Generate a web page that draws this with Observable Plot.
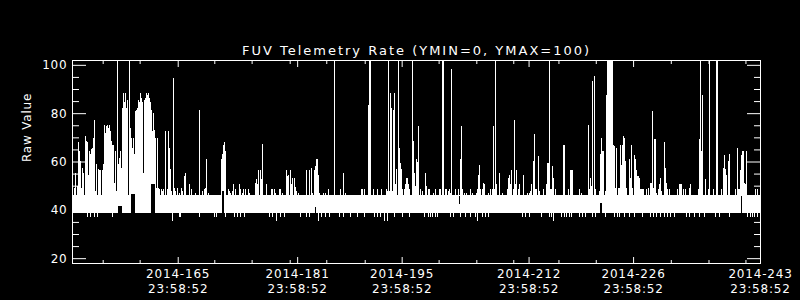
<!DOCTYPE html>
<html><head><meta charset="utf-8">
<script src="https://cdn.jsdelivr.net/npm/d3@7"></script>
<script src="https://cdn.jsdelivr.net/npm/@observablehq/plot@0.6"></script>
<style>
html,body{margin:0;padding:0;background:#000;}
</style>
</head><body>
<div id="chart"></div>
<script>
// ---- data (day-of-year 2014, raw value) ----
const title = "FUV Telemetry Rate (YMIN=0, YMAX=100)";
const yLabel = "Raw Value";
const xStart = 151.84, xEnd = 243.9992;
const yDomain = [18, 102];
const xTickDays = [165, 181, 195, 212, 226, 243];
const xTickTime = "23:58:52";
const xMinorTicks = [155.95, 160.9, 170.9, 175.9, 181.0, 185.9, 191.05, 200.95, 206.0, 210.95, 217.0, 222.0, 232.05, 237.1, 242.05];
const yMajorTicks = [20, 40, 60, 80, 100];
const yMinorTicks = [25, 30, 35, 45, 50, 55, 65, 70, 75, 85, 90, 95];

// quiet baseline band
const bandDay = [151.84, 243.95];
const bandLo = [38.5, 38.5];
const bandHi = [46, 46];

// excursions above the band [day, value]
const spikes = [
[152.11,49.2],[152.29,55.3],[152.47,49.8],[152.64,68.1],[152.78,64.3],[152.91,60.1],[153.05,49.2],[153.22,57.4],[153.36,55.3],[153.54,70.4],[153.67,68.4],[153.80,68.1],[153.94,54.6],[154.12,64.3],[154.25,62.9],[154.39,65.0],[154.52,65.6],[154.65,69.7],[154.79,77.3],[154.92,47.8],[155.10,58.8],[155.28,56.7],[155.46,56.3],[155.64,56.3],[155.81,56.3],[155.99,58.8],[156.17,75.2],[156.31,71.8],[156.44,74.5],[156.57,75.2],[156.71,73.9],[156.84,75.2],[156.97,72.5],[157.11,68.4],[157.24,67.0],[157.38,67.0],[157.51,51.2],[157.64,64.3],[157.78,47.8],[157.91,110],[158.05,58.8],[158.18,61.5],[158.31,64.3],[158.45,57.4],[158.58,82.1],[158.72,88.3],[158.85,84.8],[158.98,88.3],[159.12,82.1],[159.25,85.5],[159.43,110],[159.56,73.9],[159.70,69.7],[159.83,65.6],[159.97,69.7],[160.10,62.9],[160.23,80.7],[160.37,81.4],[160.50,82.1],[160.64,85.5],[160.77,84.8],[160.90,88.3],[161.04,86.2],[161.17,84.8],[161.31,55.3],[161.44,85.5],[161.57,86.2],[161.71,88.3],[161.84,87.6],[161.98,88.3],[162.11,86.2],[162.24,84.8],[162.38,81.4],[162.51,72.5],[162.65,80.0],[162.78,73.2],[162.91,69.7],[163.05,49.2],[163.18,69.7],[163.32,49.2],[163.45,48.5],[163.72,48.5],[163.90,47.8],[164.07,48.5],[164.34,72.5],[164.52,48.5],[164.70,72.5],[164.83,65.6],[164.97,56.7],[165.10,47.8],[165.37,94.7],[165.50,49.2],[165.68,47.8],[165.86,49.2],[166.22,47.1],[166.40,49.2],[166.57,47.8],[166.89,54.0],[167.02,55.3],
[167.56,50.5],[167.73,48.5],[168.36,47.1],[168.90,81.4],[169.30,47.8],[169.48,48.5],[169.66,49.2],[169.83,61.2],[170.01,47.1],[171.84,61.2],[171.98,62.9],[172.11,66.7],[172.24,68.1],[172.38,64.3],[172.69,48.5],[172.87,47.8],[173.05,47.1],[173.23,47.8],[173.45,50.5],[173.63,48.5],[174.21,50.5],[174.39,48.5],[174.57,47.1],[174.79,48.5],[175.01,48.5],[175.37,48.5],[175.55,47.1],[176.31,51.2],[176.44,52.6],[176.62,50.5],[176.80,56.3],[176.98,56.3],[177.16,52.6],[177.34,67.3],[177.87,50.5],[178.50,48.5],[178.69,48.5],[178.85,48.5],[179.03,47.1],[179.57,48.5],[179.75,48.5],[179.93,47.1],[180.51,56.3],[180.64,54.0],[180.82,54.6],[181.00,56.3],[181.18,50.5],[181.35,53.3],[181.53,53.3],[181.71,49.4],[181.89,47.8],[182.07,47.1],
[183.23,56.3],[183.63,56.3],[183.81,57.4],[183.99,47.1],[184.21,56.3],[184.35,58.3],[184.52,61.2],[184.66,61.2],[184.79,54.4],[184.97,47.1],[185.42,47.1],[185.77,47.1],[186.18,48.5],[186.98,110],[187.74,48.5],[188.19,55.3],[188.36,47.1],[190.51,48.5],[190.69,48.5],[191.00,48.5],[191.53,83.5],[191.67,110],[191.80,110],[192.16,48.5],[192.74,48.5],[193.28,48.5],[193.90,48.5],[194.08,47.8],[194.21,110],[194.35,47.8],[194.48,88.3],[194.62,82.1],[194.70,47.8],[194.84,81.4],[194.97,88.3],[195.15,50.5],[195.29,56.7],[195.46,110],[195.55,72.5],[195.69,65.6],[195.82,59.4],[195.96,56.7],[196.09,48.5],[196.27,48.5],[196.40,50.5],[196.58,53.3],[196.71,53.3],[196.85,50.5],[197.03,48.5],[197.43,110],[197.56,68.4],[197.70,55.3],[197.83,49.8],[197.97,61.2],
[198.10,59.9],[198.23,74.5],[198.41,48.5],[198.77,47.8],[199.13,55.3],[199.30,49.8],[199.48,48.5],[199.66,48.5],[200.24,47.1],[200.46,48.5],[201.00,48.5],[201.18,48.5],[201.45,110],[201.58,110],[201.80,48.5],[201.98,48.5],[202.16,47.8],[202.34,48.5],[202.52,47.1],[202.65,98.3],[203.19,48.5],[203.59,48.5],[203.81,61.2],[203.95,74.5],[204.13,48.5],[204.30,47.1],[204.66,47.1],[205.20,48.5],[205.38,47.1],[205.91,47.1],[206.09,48.5],[206.27,54.4],[206.40,58.5],[206.54,48.5],[206.72,48.5],[206.89,51.2],[207.07,50.5],[207.61,47.1],[207.79,48.5],[208.14,48.5],[208.28,74.5],[208.41,48.5],[208.55,110],[208.68,50.5],[209.08,55.3],[209.44,47.1],[210.15,48.5],[210.29,53.3],[210.42,54.4],[210.56,50.5],[210.69,56.3],[210.87,48.5],[211.00,72.5],[211.09,77.3],[211.23,50.5],[211.36,56.3],[211.54,48.5],[211.72,50.5],[212.30,54.4],[212.83,47.1],[213.01,47.1],[213.19,47.8],[213.37,50.5],
[213.55,54.0],[213.64,60.1],[213.77,71.5],[213.90,48.5],[214.04,48.5],[214.22,58.1],[214.31,62.2],[214.44,47.8],[214.98,48.5],[215.33,50.5],[215.51,59.4],[215.65,59.4],[215.78,110],[215.91,48.5],[216.05,48.5],[216.18,58.3],[216.32,53.3],[216.49,48.5],[217.66,66.7],[217.79,66.7],[218.32,48.5],[218.50,56.3],[218.64,56.3],[218.77,56.3],[219.80,48.5],[219.98,47.1],[221.00,75.2],[221.14,48.5],[221.27,53.3],[221.41,49.8],[221.54,93.4],[221.81,95.4],[221.94,48.5],[222.39,47.8],[222.52,62.9],[222.66,66.3],[222.75,69.7],[222.88,64.3],[223.01,64.5],[223.19,47.8],[223.33,87.6],[223.46,110],[223.59,110],[223.73,110],[223.86,110],[224.00,110],[224.13,110],[224.26,66.7],[224.40,66.3],[224.53,49.2],[224.71,65.4],[224.98,49.2],[225.11,49.2],[225.25,66.7],[225.38,58.5],[225.51,66.7],[225.65,70.4],[225.78,69.7],[225.92,60.1],[226.05,49.2],[226.50,61.2],[226.63,53.3],[226.76,66.7],[226.90,49.2],[227.17,62.6],[227.30,61.2],[227.43,56.3],[227.57,54.0],[227.70,54.0],[227.84,53.3],[227.97,48.5],[228.10,48.5],[228.24,48.5],[228.37,48.5],[228.68,48.5],
[228.99,49.2],[229.31,51.2],[229.44,51.2],[229.58,80.7],[229.71,49.2],[229.84,69.5],[229.98,69.5],[230.11,47.1],[230.38,48.5],[230.51,50.5],[230.65,53.3],[230.78,47.8],[231.18,68.1],[231.32,57.4],[231.45,51.2],[231.59,48.5],[231.85,48.5],[232.93,48.5],[233.10,50.5],[233.28,50.5],[233.46,50.5],[233.64,48.5],[234.00,48.5],[234.53,49.2],[234.67,50.5],[235.74,48.5],[235.87,69.5],[236.01,110],[236.14,64.5],[236.27,87.6],[236.68,52.6],[236.99,48.5],[237.17,110],[237.70,48.5],[238.06,110],[238.19,110],[238.73,48.5],[239.00,57.4],[239.13,62.6],[239.27,56.7],[239.40,54.4],[239.71,60.1],[239.85,63.2],[240.69,48.5],[240.96,65.4],[241.10,48.5],[241.23,48.5],[241.36,56.3],[241.50,62.6],[241.63,64.5],[241.77,64.5],[241.90,51.2],[242.03,50.5],[242.17,64.5],[243.37,48.5],[243.55,48.5]
];

// short drops below the band [day, value]
const dips = [
[153.85,37.1],[154.30,37.1],[154.74,37.1],[155.19,37.1],[157.20,37.1],[165.24,35.2],[166.13,37.1],[166.35,37.1],
[168.81,37.1],[170.82,37.1],[171.17,37.1],[172.38,37.1],[173.50,37.1],[173.94,37.1],[174.39,37.1],[174.84,37.1],[178.18,37.1],[178.63,37.1],[179.21,35.2],[179.75,37.1],[180.19,37.1],[182.43,37.1],
[183.18,37.1],[183.63,37.1],[184.79,35.2],[185.20,37.1],[185.69,37.1],[186.31,37.1],[187.65,37.1],[188.10,37.1],[189.12,37.1],[190.02,37.1],[190.91,37.1],[192.25,37.1],[192.70,37.1],[193.14,37.1],[193.63,35.2],[194.04,35.2],[194.93,37.1],[196.05,37.1],[197.03,37.1],
[199.04,37.1],[199.53,37.1],[199.84,37.1],[200.06,37.1],[200.51,37.1],[200.73,37.1],[202.52,37.1],[202.88,37.1],[203.86,37.1],[204.53,37.1],[205.20,37.1],[205.87,37.1],[206.14,35.2],[206.76,37.1],[207.21,37.1],[207.52,37.1],[212.12,37.1],[212.56,37.1],[213.01,37.1],
[214.71,37.1],[215.69,37.1],[216.05,37.1],[216.23,35.2],[217.39,37.1],[217.70,37.1],[218.01,37.1],[218.37,37.1],[218.73,37.1],[219.71,37.1],[220.16,37.1],[220.60,37.1],[221.50,37.1],[221.94,37.1],[223.19,37.1],[224.40,37.1],[224.84,37.1],[225.07,37.1],[225.74,37.1],[226.41,37.1],[227.08,37.1],[228.19,37.1],
[229.22,37.1],[229.67,37.1],[230.11,37.1],[230.65,37.1],[231.09,37.1],[231.54,37.1],[231.99,37.1],[232.43,37.1],[234.13,37.1],[234.44,37.1],[235.11,37.1],[235.78,37.1],[236.45,37.1],[238.02,37.1],[238.46,37.1],[239.80,37.1],[242.26,37.1],[242.61,37.1],[242.93,37.1],[243.24,37.1],[243.60,37.1]
];

// intervals where the signal left the band [startDay, endDay, lo, hi]
const gaps = [
[157.96,158.54,38.5,41.6],[159.70,160.23,38.5,46.7],[162.42,162.91,38.5,50.6],[171.89,172.24,38.5,47.8],
[184.35,184.55,38.5,41.3],[203.70,203.78,42.3,45.7],[222.52,222.84,38.5,43.0],[241.50,241.59,38.5,45.7]
];

// ---- chart ----
const hms = xTickTime.split(":").map(Number);
const frac = (hms[0] * 3600 + hms[1] * 60 + hms[2]) / 86400;
const xMajor = xTickDays.map(d => d + frac);
const fmtX = d => `2014-${Math.round(d - frac)}\n${xTickTime}`;
const base = bandHi[0] - 1;

const chart = Plot.plot({
  width: 800, height: 300,
  marginLeft: 72, marginRight: 40, marginTop: 60, marginBottom: 37,
  style: {background: "black", color: "white", fontFamily: "DejaVu Sans", fontSize: "12px", letterSpacing: "0.8px"},
  x: {domain: [xStart, xEnd], axis: null},
  y: {domain: yDomain, axis: null},
  marks: [
    Plot.areaY(bandDay, {x: d => d, y1: (d, i) => bandLo[i], y2: (d, i) => bandHi[i], fill: "white", curve: "step", shapeRendering: "crispEdges"}),
    Plot.ruleX(spikes, {x: d => d[0], y1: base, y2: d => d[1], stroke: "white", strokeWidth: 1, clip: true, shapeRendering: "crispEdges"}),
    Plot.rect(gaps, {x1: d => d[0], x2: d => d[1], y1: d => d[2], y2: d => d[3], fill: "black", shapeRendering: "crispEdges"}),
    Plot.ruleX(dips, {x: d => d[0], y1: bandLo[0] + 0.5, y2: d => d[1], stroke: "white", strokeWidth: 1, shapeRendering: "crispEdges"}),
    Plot.frame({stroke: "white", shapeRendering: "crispEdges"}),
    Plot.axisX(xMajor, {anchor: "bottom", tickSize: 6, dy: -6, fill: "none", label: null}),
    Plot.axisX(xMajor, {anchor: "top", tickSize: 6, dy: 6, fill: "none", label: null}),
    Plot.axisX(xMinorTicks, {anchor: "bottom", tickSize: 3, dy: -3, fill: "none", label: null}),
    Plot.axisX(xMinorTicks, {anchor: "top", tickSize: 3, dy: 3, fill: "none", label: null}),
    Plot.axisX(xMajor, {anchor: "bottom", tickSize: 0, tickPadding: 4, tickFormat: fmtX, lineHeight: 1.25, label: null}),
    Plot.axisY(yMajorTicks, {anchor: "left", tickSize: 14, dx: 14, fill: "none", label: null}),
    Plot.axisY(yMajorTicks, {anchor: "right", tickSize: 14, dx: -14, fill: "none", label: null}),
    Plot.axisY(yMinorTicks, {anchor: "left", tickSize: 7, dx: 7, fill: "none", label: null}),
    Plot.axisY(yMinorTicks, {anchor: "right", tickSize: 7, dx: -7, fill: "none", label: null}),
    Plot.axisY(yMajorTicks, {anchor: "left", tickSize: 0, tickPadding: 5, label: null}),
    Plot.text([title], {frameAnchor: "top", dy: -15, fontSize: 13, fill: "white"}),
    Plot.text([yLabel], {frameAnchor: "left", dx: -45, rotate: -90, fill: "white"})
  ]
});
document.getElementById("chart").appendChild(chart);
// widen the title spacing to match the stroke font of the original
d3.select(chart).selectAll("text").filter(function() { return this.textContent === title; }).style("letter-spacing", "2px");
</script>
</body></html>
